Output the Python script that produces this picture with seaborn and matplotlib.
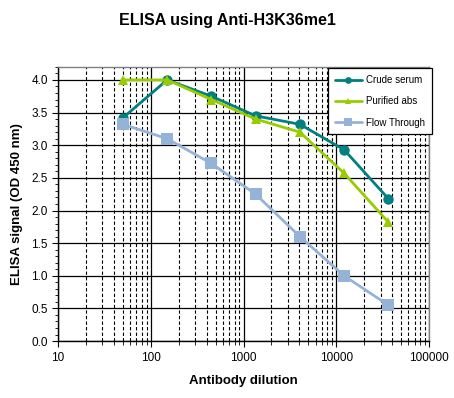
import pandas as pd
import matplotlib
matplotlib.use("Agg")
import matplotlib.pyplot as plt
import seaborn as sns
from matplotlib.ticker import MultipleLocator, LogLocator, FixedLocator

dilution = [50, 150, 450, 1350, 4050, 12150, 36450]
crude_serum = [3.42, 4.00, 3.75, 3.45, 3.32, 2.93, 2.18]
purified_abs = [4.00, 4.00, 3.70, 3.40, 3.20, 2.57, 1.82]
flow_through = [3.32, 3.10, 2.72, 2.25, 1.60, 1.00, 0.55]

series = ["Crude serum", "Purified abs", "Flow Through"]
colors = ["#008080", "#99CC00", "#95B3D7"]
markers = ["o", "^", "s"]

df = pd.DataFrame({
    "dilution": dilution * 3,
    "signal": crude_serum + purified_abs + flow_through,
    "series": [s for s in series for _ in dilution],
})

sns.set_style("white")
plt.rcParams["font.family"] = ["Liberation Sans", "DejaVu Sans"]
plt.rcParams["text.color"] = "black"
plt.rcParams["axes.labelcolor"] = "black"
plt.rcParams["xtick.color"] = "black"
plt.rcParams["ytick.color"] = "black"

fig = plt.figure(figsize=(4.54, 3.98), dpi=100)
ax = fig.add_axes([0.128, 0.143, 0.817, 0.689])

ax.set_xscale("log")
ax.set_xlim(10, 100000)
ax.set_ylim(0, 4.2)

# grid
ax.xaxis.set_minor_locator(LogLocator(base=10, subs=range(2, 10)))
ax.yaxis.set_major_locator(FixedLocator([0, 0.5, 1, 1.5, 2, 2.5, 3, 3.5, 4]))
ax.yaxis.set_minor_locator(MultipleLocator(0.1))
ax.grid(which="major", axis="both", color="black", linewidth=0.9, linestyle="-")
ax.grid(which="minor", axis="x", color="black", linewidth=0.8, linestyle=(0, (3, 2)))
ax.set_axisbelow(True)

for s, c, m in zip(series, colors, markers):
    sub = df[df["series"] == s]
    sns.lineplot(data=sub, x="dilution", y="signal", ax=ax, color=c, marker=m,
                 markersize=7.5 if m != "s" else 8.5, markeredgewidth=0,
                 linewidth=2, label=s)

ax.set_xticks([10, 100, 1000, 10000, 100000])
ax.set_xticklabels(["10", "100", "1000", "10000", "100000"])
ax.set_yticklabels([f"{v:.1f}" for v in [0, 0.5, 1, 1.5, 2, 2.5, 3, 3.5, 4]])
ax.tick_params(axis="both", which="major", labelsize=8.5, length=4, direction="out",
               bottom=True, left=True, color="black")
ax.tick_params(axis="y", which="minor", length=2.5, left=True, color="black")
ax.tick_params(axis="x", which="minor", length=3, bottom=True, color="black")

for side in ["left", "bottom"]:
    ax.spines[side].set_color("black")
    ax.spines[side].set_linewidth(1)
for side in ["top", "right"]:
    ax.spines[side].set_color("#808080")
    ax.spines[side].set_linewidth(1)

ax.set_xlabel("Antibody dilution", fontsize=9.5, fontweight="bold", labelpad=8)
ax.set_ylabel("ELISA signal (OD 450 nm)", fontsize=9.5, fontweight="bold", labelpad=6)
fig.suptitle("ELISA using Anti-H3K36me1", fontsize=11.5, fontweight="bold", y=0.968)

leg = ax.legend(loc="upper right", bbox_to_anchor=(1.02, 1.012), fontsize=7,
                frameon=True, fancybox=False, edgecolor="black", framealpha=1,
                handlelength=2.8, borderpad=0.7, labelspacing=1.15, handletextpad=0.4,
                markerscale=0.65)
leg.get_frame().set_linewidth(0.9)

fig.savefig("out.png", dpi=100)
